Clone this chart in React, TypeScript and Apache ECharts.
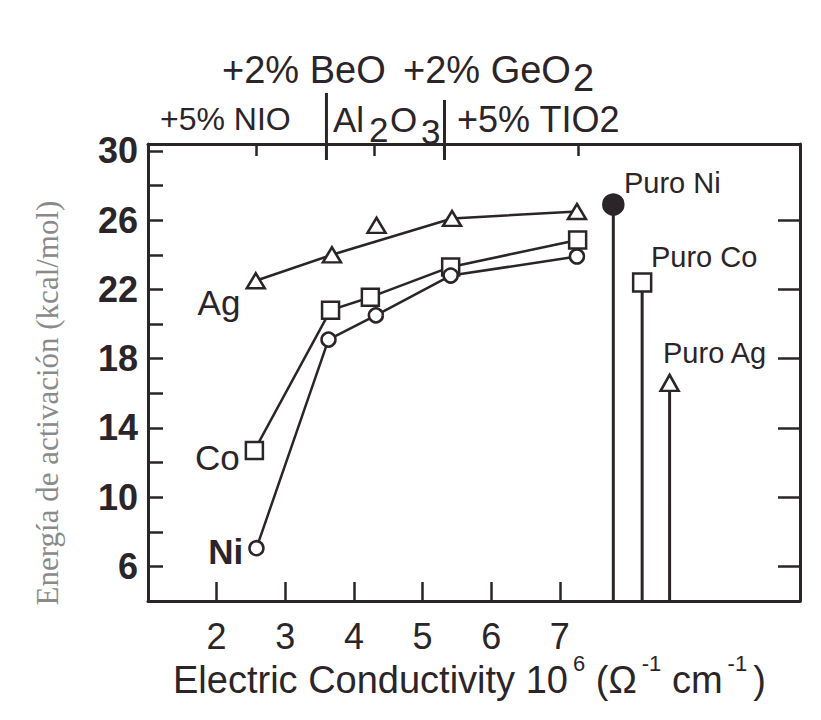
import React, { useEffect, useRef } from "react";
import * as echarts from "echarts";

// ---- axis values ----
const X_MIN = 1;
const X_MAX = 10.5;
const Y_MIN = 4;
const Y_MAX = 30.4;
const xTickValues = [2, 3, 4, 5, 6, 7];
const topTickValues = [2.58, 4.3, 7.27];
const yLabelValues = [6, 10, 14, 18, 22, 26, 30];
const yTickValues = [6, 8, 10, 12, 14, 16, 18, 20, 22, 24, 26, 28, 30];
const rightTickValues = [6, 10, 14, 18, 22, 26];

// ---- series values ----
const agX = [2.57, 3.68, 4.33, 5.43, 7.25];
const agY = [22.5, 24.0, 25.7, 26.1, 26.5];
const agCurveX = [2.57, 3.68, 5.43, 7.25];
const agCurveY = [22.5, 24.0, 26.1, 26.5];
const coX = [2.55, 3.66, 4.24, 5.41, 7.26];
const coY = [12.7, 20.8, 21.55, 23.3, 24.85];
const niX = [2.58, 3.63, 4.32, 5.41, 7.25];
const niY = [7.05, 19.1, 20.5, 22.8, 23.9];
const pureNames = ["Puro Ni", "Puro Co", "Puro Ag"];
const pureX = [7.78, 8.2, 8.6];
const pureY = [26.9, 22.4, 16.6];
const dividerX = [3.6, 5.32];

const ink = "#2b2428";
const sans = "'Liberation Sans', Arial, Helvetica, sans-serif";
const serif = "'Liberation Serif', 'Times New Roman', serif";

const pts = (xs: number[], ys: number[]) => xs.map((x, i) => [x, ys[i]]);

export default function App() {
  const ref = useRef<HTMLDivElement>(null);
  useEffect(() => {
    if (!ref.current) return;
    const chart = echarts.init(ref.current, null, { renderer: "svg" });

    const hollow = { color: "#ffffff", borderColor: ink, borderWidth: 2.5, opacity: 1 };
    const lineStyle = { color: ink, width: 2.5 };
    const seriesLabel = (text: string, offset: number[], size: number, bold = false) => ({
      show: true,
      formatter: text,
      position: "left",
      distance: 5,
      offset,
      fontSize: size,
      fontFamily: sans,
      fontWeight: bold ? "bold" : "normal",
      color: ink,
      opacity: 1,
    });

    const agData = pts(agX, agY).map((v, i) =>
      i === 0 ? { value: v, label: seriesLabel("Ag", [0, 22], 35) } : { value: v }
    );
    const coData = pts(coX, coY).map((v, i) =>
      i === 0 ? { value: v, label: seriesLabel("Co", [0, 7], 35) } : { value: v }
    );
    const niData = pts(niX, niY).map((v, i) =>
      i === 0 ? { value: v, label: seriesLabel("Ni", [0, 3], 35, true) } : { value: v }
    );

    const pureSymbols = ["circle", "rect", "triangle"];
    const pureSizes: any[] = [20, 18, [18, 16]];
    const pureFill = [ink, "#ffffff", "#ffffff"];
    const pureOffsets = [[59, 9.5], [62, 4.5], [45, -1.5]];
    const pureData = pureNames.map((name, i) => ({
      name,
      value: [pureX[i], pureY[i]],
      symbol: pureSymbols[i],
      symbolSize: pureSizes[i],
      itemStyle: { color: pureFill[i], borderColor: ink, borderWidth: 2.5, opacity: 1 },
      label: {
        show: true,
        formatter: name,
        position: "top",
        offset: pureOffsets[i],
        fontSize: 29,
        fontFamily: sans,
        color: ink,
        opacity: 1,
      },
    }));

    const pureStems = pureNames.map((name, i) => ({
      type: "line",
      name: name + " stem",
      data: [
        [pureX[i], pureY[i]],
        [pureX[i], Y_MIN],
      ],
      symbol: "none",
      lineStyle: { color: ink, width: 3 },
      z: 1,
      silent: true,
    }));

    const option: any = {
      animation: false,
      backgroundColor: "#ffffff",
      grid: { left: 148, right: 21, top: 144, bottom: 119, containLabel: false },
      xAxis: [
        {
          type: "value",
          position: "bottom",
          min: X_MIN,
          max: X_MAX,
          axisLine: { show: true, lineStyle: { color: ink, width: 3 } },
          axisTick: {
            show: true,
            inside: true,
            length: 19,
            customValues: xTickValues,
            lineStyle: { color: ink, width: 2.5 },
          },
          axisLabel: {
            customValues: xTickValues,
            color: ink,
            fontSize: 36,
            fontFamily: sans,
            margin: 17,
          },
          splitLine: { show: false },
        },
        {
          type: "value",
          position: "top",
          min: X_MIN,
          max: X_MAX,
          axisLine: { show: true, lineStyle: { color: ink, width: 3 } },
          axisTick: {
            show: true,
            inside: true,
            length: 12,
            customValues: topTickValues,
            lineStyle: { color: ink, width: 2.5 },
          },
          axisLabel: { show: false },
          splitLine: { show: false },
        },
      ],
      yAxis: [
        {
          type: "value",
          position: "left",
          min: Y_MIN,
          max: Y_MAX,
          axisLine: { show: true, lineStyle: { color: ink, width: 3 } },
          axisTick: {
            show: true,
            inside: true,
            length: 15,
            customValues: yTickValues,
            lineStyle: { color: ink, width: 2.5 },
          },
          axisLabel: {
            customValues: yLabelValues,
            color: ink,
            fontSize: 36,
            fontWeight: "bold",
            fontFamily: sans,
            margin: 10,
          },
          splitLine: { show: false },
        },
        {
          type: "value",
          position: "right",
          min: Y_MIN,
          max: Y_MAX,
          axisLine: { show: true, lineStyle: { color: ink, width: 3 } },
          axisTick: {
            show: true,
            inside: true,
            length: 22,
            customValues: rightTickValues,
            lineStyle: { color: ink, width: 2.5 },
          },
          axisLabel: { show: false },
          splitLine: { show: false },
        },
      ],
      series: [
        ...pureStems,
        {
          type: "line",
          name: "Ag curve",
          data: pts(agCurveX, agCurveY),
          symbol: "none",
          lineStyle,
          z: 2,
        },
        {
          type: "scatter",
          name: "Ag",
          data: agData,
          symbol: "triangle",
          symbolSize: [18, 15],
          itemStyle: hollow,
          z: 3,
        },
        {
          type: "line",
          name: "Co",
          data: coData,
          symbol: "rect",
          symbolSize: 17,
          showSymbol: true,
          itemStyle: hollow,
          lineStyle,
          z: 3,
        },
        {
          type: "line",
          name: "Ni",
          data: niData,
          symbol: "circle",
          symbolSize: 14,
          showSymbol: true,
          itemStyle: hollow,
          lineStyle,
          z: 4,
        },
        {
          type: "scatter",
          name: "Puro",
          data: pureData,
          z: 5,
        },
      ],
    };
    chart.setOption(option);

    const px = (v: number) => chart.convertToPixel({ xAxisIndex: 0 }, v) as number;
    const text = (t: string, x: number, y: number, size: number) => ({
      type: "text",
      x,
      y,
      style: {
        text: t,
        fill: ink,
        fontSize: size,
        fontFamily: sans,
        textAlign: "left",
        textVerticalAlign: "middle",
      },
    });
    const dividerTops = [93, 100];
    const graphic: any[] = [
      ...dividerX.map((v, i) => ({
        type: "line",
        shape: { x1: px(v), y1: dividerTops[i], x2: px(v), y2: 160 },
        style: { stroke: ink, lineWidth: 3 },
      })),
      text("+2% BeO", 222, 70, 38),
      text("+2% GeO", 403, 70, 38),
      text("2", 573, 78, 38),
      text("+5% NIO", 160, 119, 32),
      text("Al", 333, 119, 35),
      text("2", 369, 129, 35),
      text("O", 390, 119, 35),
      text("3", 421, 131, 35),
      text("+5% TIO2", 457, 119, 36),
      {
        type: "text",
        x: 47,
        y: 403,
        rotation: Math.PI / 2,
        style: {
          text: "Energía de activación (kcal/mol)",
          fill: "#8a8a8a",
          fontSize: 31,
          fontFamily: serif,
          textAlign: "center",
          textVerticalAlign: "middle",
        },
      },
      {
        type: "text",
        x: 173,
        y: 680,
        style: {
          text: "{m|Electric Conductivity 10}{s|6}{m| (Ω}{s|-1}{m| cm}{s|-1}{p|)}",
          fill: ink,
          fontFamily: sans,
          textAlign: "left",
          textVerticalAlign: "middle",
          rich: {
            m: { fontSize: 38, lineHeight: 56, verticalAlign: "middle", fontFamily: sans, fill: ink },
            p: { fontSize: 38, lineHeight: 56, verticalAlign: "middle", fontFamily: sans, fill: ink, padding: [0, 0, 0, 6] },
            s: { fontSize: 22, lineHeight: 20, verticalAlign: "top", padding: [0, 0, 0, 5], fontFamily: sans, fill: ink },
          },
        },
      },
    ];
    chart.setOption({ graphic });

    return () => chart.dispose();
  }, []);

  return (
    <div
      ref={ref}
      style={{ position: "fixed", left: 0, top: 0, width: 821, height: 720, background: "#fff" }}
    />
  );
}
